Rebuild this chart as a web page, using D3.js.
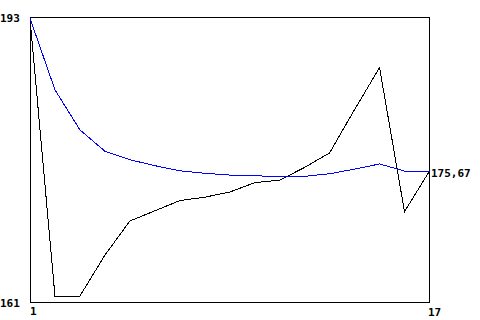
<!DOCTYPE html>
<html>
<head>
  <meta charset="utf-8">
  <script src="https://d3js.org/d3.v7.min.js"></script>
  <style>
    body { margin: 0; background: #fff; }
    svg { display: block; }
    .lbl { font-family: 'DejaVu Sans Mono', monospace; font-weight: bold; font-size: 11px; fill: #000; }
    .ln { fill: none; stroke-width: 1; shape-rendering: crispEdges; }
  </style>
</head>
<body>
<svg id="canvas" width="480" height="320"></svg>
<script>
  // values
  xs = d3.range(1, 18);
  blackVals = [193.6, 161, 161, 165.8, 169.8, 171.0, 172.2, 172.6, 173.2, 174.3, 174.6, 176.1, 177.8, 182.9, 187.8, 170.9, 175.67];
  blueVals = [193.6, 185.2, 180.5, 178.0, 177.0, 176.3, 175.7, 175.4, 175.2, 175.1, 175.05, 175.05, 175.35, 175.9, 176.5, 175.67, 175.67];
  yLabels = ['193', '161'];
  xLabels = ['1', '17'];
  endLabel = '175,67';

  svg = d3.select('#canvas');

  x = d3.scaleLinear().domain([1, 17]).range([30, 429.5]);
  y = d3.scaleLinear().domain([161, 193.6]).range([296, 18.3]);

  // frame
  svg.append('rect')
    .attr('x', 30.5)
    .attr('y', 17.5)
    .attr('width', 399)
    .attr('height', 285)
    .attr('fill', 'none')
    .attr('stroke', 'black')
    .attr('shape-rendering', 'crispEdges');

  line = d3.line()
    .x(function(d, i) { return x(xs[i]); })
    .y(function(d) { return y(d); });

  svg.append('path')
    .datum(blackVals)
    .attr('class', 'ln')
    .attr('stroke', 'black')
    .attr('d', line);

  svg.append('path')
    .datum(blueVals)
    .attr('class', 'ln')
    .attr('stroke', 'blue')
    .attr('d', line);

  // labels
  svg.append('text').attr('class', 'lbl').attr('x', 0).attr('y', 22).text(yLabels[0]);
  svg.append('text').attr('class', 'lbl').attr('x', 0).attr('y', 307).text(yLabels[1]);
  svg.append('text').attr('class', 'lbl').attr('x', x(1)).attr('y', 315).text(xLabels[0]);
  svg.append('text').attr('class', 'lbl').attr('x', x(17) - 1.5).attr('y', 315.5).text(xLabels[1]);
  svg.append('text').attr('class', 'lbl')
    .attr('x', x(17) + 1.5)
    .attr('y', y(blueVals[16]) + 5.5)
    .text(endLabel);
</script>
</body>
</html>
